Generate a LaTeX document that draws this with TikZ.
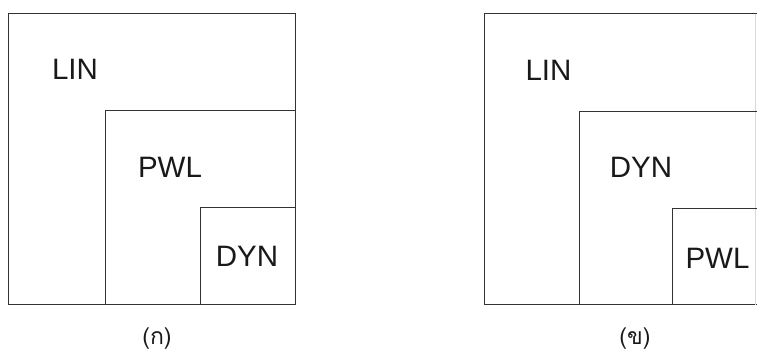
\documentclass[tikz,border=0pt]{standalone}
\usepackage{fontspec}
\setmainfont{Liberation Sans}
\newfontfamily\thaifont[Script=Thai]{Loma}
\begin{document}
\begin{tikzpicture}[x=1pt,y=-1pt,
  setbox/.style={draw=black!80,line width=0.9pt},
  setlabel/.style={font=\fontsize{29.5}{32}\selectfont,text=black!90,inner sep=0pt},
  caption/.style={font=\thaifont\fontsize{23}{25}\selectfont,text=black!90,inner sep=0pt}]
  \useasboundingbox (0,0) rectangle (757,354);
  \clip (0,0) rectangle (757,354);

  % left diagram: LIN contains PWL contains DYN
  \draw[setbox] (8,13.5) rectangle (295.5,304.5);
  \draw[setbox] (105,110.5) -- (295.5,110.5);
  \draw[setbox] (105,304.5) -- (105,110.5);
  \draw[setbox] (200,207.5) -- (295.5,207.5);
  \draw[setbox] (200,304.5) -- (200,207.5);
  \node[setlabel] (l1) at (75,69) {LIN};
  \node[setlabel] (l2) at (170,167) {PWL};
  \node[setlabel] (l3) at (247,256) {DYN};
  \node[caption] (ca) at (157,339) {(ก)};

  % right diagram: LIN contains DYN contains PWL
  \draw[setbox] (484,304.5) -- (484,13.5) -- (770,13.5);
  \draw[setbox] (484,304.5) -- (770,304.5);
  \draw[draw=black!15,line width=0.7pt] (755,13.5) -- (755,304.5);
  \draw[setbox] (579,304.5) -- (579,111) -- (770,111);
  \draw[setbox] (672,304.5) -- (672,208) -- (770,208);
  \node[setlabel] (r1) at (548.5,70) {LIN};
  \node[setlabel] (r2) at (641,167) {DYN};
  \node[setlabel] (r3) at (717.5,258) {PWL};
  \node[caption] (cb) at (635,339) {(ข)};
\end{tikzpicture}
\end{document}
